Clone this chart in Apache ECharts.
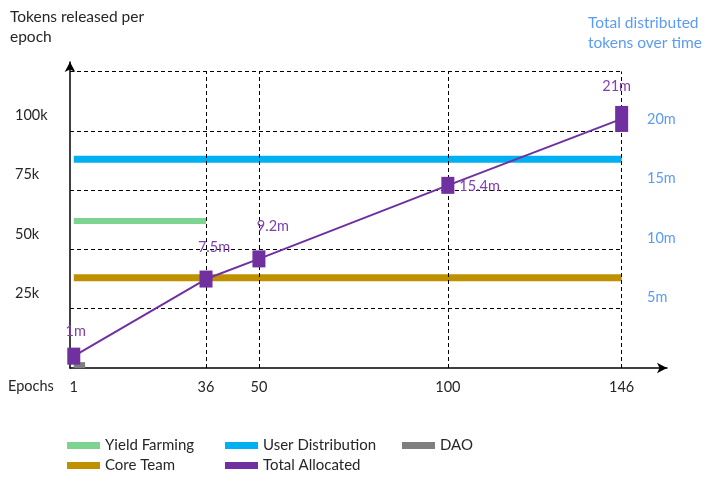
<!DOCTYPE html>
<html>
<head>
<meta charset="utf-8">
<script src="https://cdn.jsdelivr.net/npm/echarts@6/dist/echarts.min.js"></script>
<style>html,body{margin:0;padding:0;background:#fff}#c{width:723px;height:481px}</style>
</head>
<body>
<div id="c"></div>
<script>
// ---- data ----
const epochTicks = [1, 36, 50, 100, 146];          // x tick labels (epochs)
const leftTicks = [25, 50, 75, 100];                 // tokens per epoch (k)
const rightTicks = [5, 10, 15, 20];                  // total tokens (m)
const gridTopValue = 125;                            // top dashed line (k)
const yieldEpochs = [1, 36];  const yieldValues = [62, 62];     // k per epoch
const coreEpochs = [1, 146];  const coreValues = [38, 38];
const userEpochs = [1, 146];  const userValues = [88, 88];
const daoEpochs = [1, 4];     const daoValues = [1.2, 1.2];
const totalEpochs = [1, 36, 50, 100, 146];
const totalValues = [1, 7.5, 9.2, 15.4, 21];         // m
const totalLabels = ['1m', '7.5m', '9.2m', '15.4m', '21m'];

const FONT = 'Lato';
const pairs = (xs, ys) => xs.map((x, i) => [x, ys[i]]);

const gridLines = [];
epochTicks.slice(1).forEach(e => gridLines.push([{coord: [e, 0]}, {coord: [e, gridTopValue]}]));
leftTicks.concat([gridTopValue]).forEach(v => gridLines.push([{coord: [0, v]}, {coord: [epochTicks[epochTicks.length - 1], v]}]));

const labelCfg = [
  {position: 'top', offset: [2, -4]},
  {position: 'top', offset: [8, -11]},
  {position: 'top', offset: [14, -12]},
  {position: 'right', offset: [0, 1]},
  {position: 'top', offset: [-5, -7]}
];
const sizes = [[13, 17], [13, 17], [13, 17], [13, 17], [13, 26]];

const legendBase = {orient: 'vertical', top: 437, height: 45, padding: 0, itemWidth: 33, itemHeight: 7, itemGap: 3, icon: 'rect',
  textStyle: {fontFamily: FONT, fontSize: 15, color: '#262626', lineHeight: 17}};

const chart = echarts.init(document.getElementById('c'), null, {renderer: 'canvas'});
chart.setOption({
  animation: false,
  backgroundColor: '#fff',
  textStyle: {fontFamily: FONT},
  title: [
    {text: 'Tokens released per\nepoch', left: 10, top: 7, padding: 0,
     textStyle: {fontFamily: FONT, fontSize: 15.5, fontWeight: 'normal', color: '#262626', lineHeight: 20}},
    {text: 'Total distributed\ntokens over time', left: 588, top: 13, padding: 0,
     textStyle: {fontFamily: FONT, fontSize: 15.5, fontWeight: 'normal', color: '#5b9bf5', lineHeight: 20,
                 width: 116, overflow: 'truncate', ellipsis: ''}}
  ],
  graphic: [
    {type: 'text', left: 8, top: 379, style: {text: 'Epochs', font: '14.5px ' + FONT, fill: '#262626'}}
  ],
  grid: {left: 70, right: 56, top: 62, bottom: 113},
  xAxis: {
    type: 'value', min: 0, max: 158,
    axisLine: {show: true, lineStyle: {color: '#000', width: 1.5}, symbol: ['none', 'arrow'], symbolSize: [8, 10]},
    axisTick: {show: false},
    splitLine: {show: false},
    axisLabel: {customValues: epochTicks, fontFamily: FONT, fontSize: 14.5, color: '#262626', margin: 12}
  },
  yAxis: [
    {type: 'value', min: 0, max: 129, interval: 25,
     axisLine: {show: true, lineStyle: {color: '#000', width: 1.5}, symbol: ['none', 'arrow'], symbolSize: [8, 10]},
     axisTick: {show: false}, splitLine: {show: false},
     axisLabel: {fontFamily: FONT, fontSize: 14.5, color: '#262626', align: 'left', margin: 55,
                 verticalAlign: 'bottom', padding: [0, 0, 8, 0],
                 formatter: v => leftTicks.includes(v) ? v + 'k' : ''}},
    {type: 'value', min: 0, max: 25.8, interval: 5, position: 'right', offset: -21,
     axisLine: {show: false}, axisTick: {show: false}, splitLine: {show: false},
     axisLabel: {fontFamily: FONT, fontSize: 14.5, color: '#5b9bf5', align: 'left', margin: 1,
                 verticalAlign: 'bottom', padding: [0, 0, 4, 0],
                 formatter: v => rightTicks.includes(v) ? v + 'm' : ''}}
  ],
  legend: [
    Object.assign({left: 67, data: ['Yield Farming', 'Core Team']}, legendBase),
    Object.assign({left: 225, data: ['User Distribution', 'Total Allocated']}, legendBase),
    Object.assign({left: 402, data: ['DAO']}, legendBase)
  ],
  series: [
    {name: 'grid', type: 'line', data: [], z: 1, silent: true,
     markLine: {silent: true, symbol: ['none', 'none'], label: {show: false},
                lineStyle: {color: '#000', type: [4, 3], width: 1}, data: gridLines}},
    {name: 'Yield Farming', type: 'line', z: 3, showSymbol: false, color: '#7dd491',
     lineStyle: {width: 6, cap: 'butt'}, data: pairs(yieldEpochs, yieldValues)},
    {name: 'Core Team', type: 'line', z: 3, showSymbol: false, color: '#bf9000',
     lineStyle: {width: 7, cap: 'butt'}, data: pairs(coreEpochs, coreValues)},
    {name: 'User Distribution', type: 'line', z: 3, showSymbol: false, color: '#00b0f0',
     lineStyle: {width: 7, cap: 'butt'}, data: pairs(userEpochs, userValues)},
    {name: 'DAO', type: 'line', z: 3, showSymbol: false, color: '#7f7f7f',
     lineStyle: {width: 6, cap: 'butt'}, data: pairs(daoEpochs, daoValues)},
    {name: 'Total Allocated', type: 'line', z: 5, yAxisIndex: 1, color: '#7030a0',
     symbol: 'rect', lineStyle: {width: 2},
     label: {show: true, fontFamily: FONT, fontSize: 14.5, color: '#7f3fad'},
     data: totalEpochs.map((e, i) => ({
       value: [e, totalValues[i]], symbolSize: sizes[i],
       label: Object.assign({formatter: totalLabels[i]}, labelCfg[i])
     }))}
  ]
});
</script>
</body>
</html>
